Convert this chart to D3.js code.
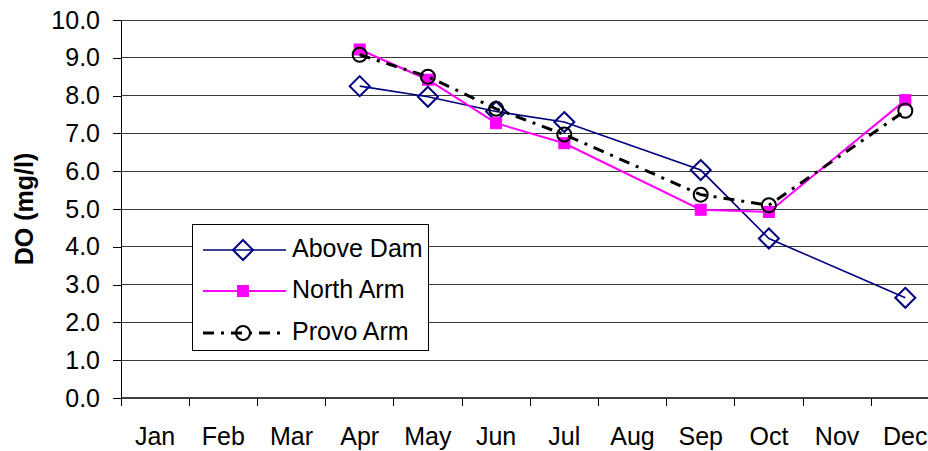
<!DOCTYPE html>
<html>
<head>
<meta charset="utf-8">
<script src="https://cdn.jsdelivr.net/npm/d3@7"></script>
<style>
  html, body { margin: 0; padding: 0; background: #fff; }
  svg { display: block; font-family: "Liberation Sans", Arial, sans-serif; }
</style>
</head>
<body>
<svg id="chart" width="928" height="451"></svg>
<script>
// Monthly dissolved oxygen (mg/l) at three reservoir stations
const months = ["Jan", "Feb", "Mar", "Apr", "May", "Jun", "Jul", "Aug", "Sep", "Oct", "Nov", "Dec"];
const aboveDam = [null, null, null, 8.25, 7.97, 7.58, 7.30, null, 6.03, 4.22, null, 2.65];
const northArm = [null, null, null, 9.22, 8.42, 7.27, 6.74, null, 4.98, 4.92, null, 7.88];
const provoArm = [null, null, null, 9.08, 8.50, 7.65, 6.97, null, 5.38, 5.10, null, 7.60];
const seriesNames = ["Above Dam", "North Arm", "Provo Arm"];
const yTicks = [0, 1, 2, 3, 4, 5, 6, 7, 8, 9, 10];

const svg = d3.select("#chart");
const plotLeft = 121, plotTop = 20, plotBottom = 398, step = 68.2;
const plotRight = plotLeft + step * months.length;

const x = d3.scaleBand().domain(months).range([plotLeft, plotRight]).paddingInner(0).paddingOuter(0);
const y = d3.scaleLinear().domain([0, 10]).range([plotBottom, plotTop]);

svg.append("rect").attr("width", 928).attr("height", 451).attr("fill", "#fff");

// horizontal gridlines
svg.append("g").selectAll("line").data(yTicks.slice(1)).join("line")
  .attr("x1", plotLeft).attr("x2", plotRight)
  .attr("y1", d => y(d)).attr("y2", d => y(d))
  .attr("stroke", "#3a3a3a").attr("stroke-width", 1)
  .attr("shape-rendering", "crispEdges");

// y axis
const yAxis = svg.append("g").attr("transform", `translate(${plotLeft},0)`)
  .call(d3.axisLeft(y).tickValues(yTicks).tickFormat(d3.format(".1f")).tickSize(8).tickSizeOuter(0).tickPadding(13));
yAxis.select(".domain").attr("stroke", "#000").attr("shape-rendering", "crispEdges");
yAxis.selectAll(".tick line").attr("stroke", "#000").attr("shape-rendering", "crispEdges");
yAxis.selectAll("text").attr("font-size", 25).attr("fill", "#000").attr("font-family", "Liberation Sans, Arial, sans-serif");

// x axis: labels centred in each month band
const xAxis = svg.append("g").attr("transform", `translate(0,${plotBottom})`)
  .call(d3.axisBottom(x).tickSize(0).tickPadding(29));
xAxis.select(".domain").remove();
xAxis.selectAll("text").attr("font-size", 25).attr("fill", "#000").attr("font-family", "Liberation Sans, Arial, sans-serif");

// x axis line and tick marks on band boundaries
const boundaries = months.map(m => x(m)).concat([plotRight]);
svg.append("line").attr("x1", plotLeft).attr("x2", plotRight).attr("y1", plotBottom).attr("y2", plotBottom)
  .attr("stroke", "#000").attr("stroke-width", 1.5);
svg.append("g").selectAll("line").data(boundaries).join("line")
  .attr("x1", d => d).attr("x2", d => d).attr("y1", plotBottom).attr("y2", plotBottom + 8)
  .attr("stroke", "#000").attr("shape-rendering", "crispEdges");

// y axis title
svg.append("text")
  .attr("transform", `translate(33,${(plotTop + plotBottom) / 2}) rotate(-90)`)
  .attr("text-anchor", "middle").attr("font-size", 25).attr("font-weight", "bold")
  .text("DO (mg/l)");

const cx = m => x(m) + x.bandwidth() / 2;
const toPoints = vals => months.map((m, i) => ({ m, v: vals[i] })).filter(d => d.v != null);
const line = d3.line().x(d => cx(d.m)).y(d => y(d.v));

const styles = [
  { vals: aboveDam, color: "#000080", width: 1.6, dash: null, marker: "diamond" },
  { vals: northArm, color: "#ff00ff", width: 2, dash: null, marker: "square" },
  { vals: provoArm, color: "#000", width: 3, dash: "11,7,3,7", marker: "circle" }
];

function drawMarker(g, type, color) {
  if (type === "diamond") {
    g.append("path").attr("d", "M0,-10L10,0L0,10L-10,0Z")
      .attr("fill", "none").attr("stroke", color).attr("stroke-width", 2);
  } else if (type === "square") {
    g.append("rect").attr("x", -5.5).attr("y", -5.5).attr("width", 11).attr("height", 11)
      .attr("fill", color).attr("stroke", color).attr("stroke-width", 1);
  } else {
    g.append("circle").attr("r", 7).attr("fill", "none").attr("stroke", color).attr("stroke-width", 2);
  }
}

styles.forEach(s => {
  const pts = toPoints(s.vals);
  svg.append("path").datum(pts).attr("d", line)
    .attr("fill", "none").attr("stroke", s.color).attr("stroke-width", s.width)
    .attr("stroke-dasharray", s.dash);
  svg.append("g").selectAll("g").data(pts).join("g")
    .attr("transform", d => `translate(${cx(d.m)},${y(d.v)})`)
    .each(function () { drawMarker(d3.select(this), s.marker, s.color); });
});

// legend
const legend = svg.append("g");
legend.append("rect").attr("x", 192).attr("y", 224).attr("width", 236).attr("height", 126)
  .attr("fill", "#fff").attr("stroke", "#000").attr("stroke-width", 1).attr("shape-rendering", "crispEdges");
const rowY = [250, 291, 333];
styles.forEach((s, i) => {
  const g = legend.append("g");
  g.append("line").attr("x1", 203).attr("x2", 286).attr("y1", rowY[i]).attr("y2", rowY[i])
    .attr("stroke", s.color).attr("stroke-width", s.width).attr("stroke-dasharray", s.dash);
  const mg = g.append("g").attr("transform", `translate(243,${rowY[i]})`);
  drawMarker(mg, s.marker, s.color);
  g.append("text").attr("x", 292).attr("y", rowY[i] + 7).attr("font-size", 25).attr("fill", "#000")
    .text(seriesNames[i]);
});
</script>
</body>
</html>
